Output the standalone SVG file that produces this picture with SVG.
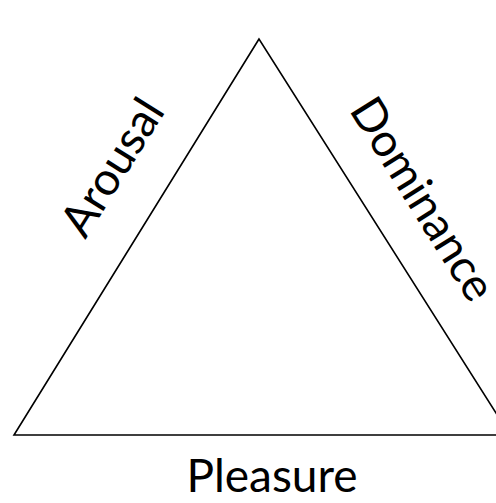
<svg xmlns="http://www.w3.org/2000/svg" width="496" height="503" viewBox="0 0 496 503">
<style>
.lbl{font-family:Lato,"Open Sans","Liberation Sans",sans-serif;font-size:46px;fill:#000;text-anchor:middle}
.edge{fill:none;stroke:#000;stroke-width:1.6}
</style>
<rect width="496" height="503" fill="#fff"/>
<g id="connectors">
<path class="edge" d="M259,39 L14,435 L510,435 Z"/>
</g>
<g id="arousal"><text class="lbl" transform="translate(112,167) rotate(-58)" y="16">Arousal</text></g>
<g id="dominance"><text class="lbl" transform="translate(423,199) rotate(58)" y="16">Dominance</text></g>
<g id="pleasure"><text class="lbl" x="272" y="492">Pleasure</text></g>
</svg>
